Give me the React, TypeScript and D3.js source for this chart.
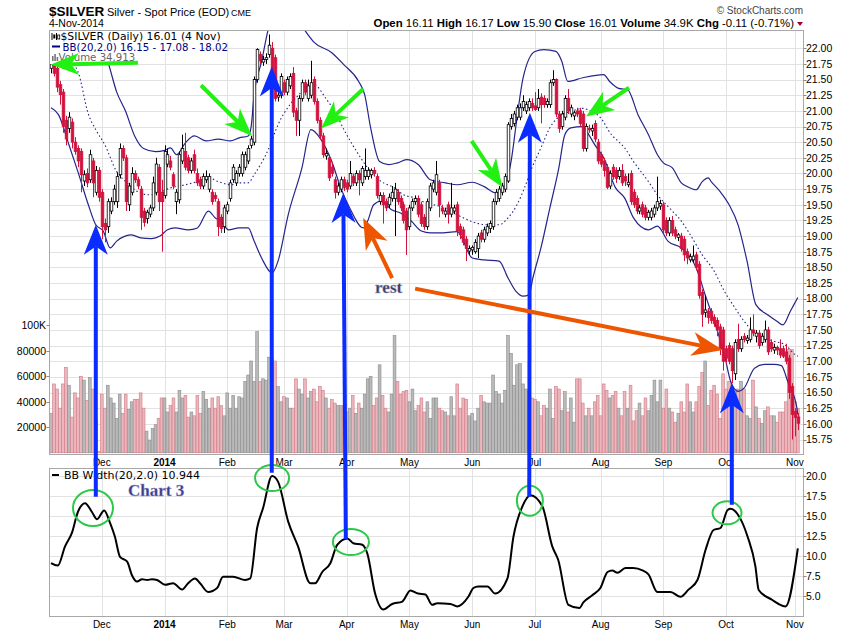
import React from "react";
import * as d3 from "d3";

type Bar = [number, number, number, number, number]; // open, high, low, close, volume (K)

// ---------- daily OHLC + volume (K) ----------
const nov2013: Bar[] = [
  [21.68, 21.82, 21.6, 21.75, 31], [21.75, 21.8, 21.55, 21.6, 54], [21.68, 21.75, 21.3, 21.38, 50],
  [21.42, 21.48, 21.1, 21.26, 35], [21.3, 21.35, 20.65, 20.75, 54], [20.85, 20.92, 20.45, 20.55, 67],
  [20.72, 20.98, 20.65, 20.9, 53], [20.82, 20.88, 20.4, 20.5, 28], [20.5, 20.58, 20.3, 20.35, 47],
  [20.4, 20.45, 20.1, 20.2, 43], [20.35, 20.4, 19.7, 19.98, 60], [19.88, 20.05, 19.8, 19.98, 57],
  [20.0, 20.08, 19.78, 19.85, 41], [19.9, 20.38, 19.85, 20.3, 59], [20.2, 20.25, 19.62, 19.85, 50],
  [19.7, 20.12, 19.65, 20.05, 26], [20.05, 20.1, 19.55, 19.62, 1],
];
const dec2013: Bar[] = [
  [19.7, 19.75, 18.95, 19.15, 46], [19.2, 19.28, 18.9, 19.1, 35], [19.15, 19.6, 19.05, 19.55, 53],
  [19.4, 19.62, 19.35, 19.55, 43], [19.55, 19.82, 19.5, 19.75, 39], [19.55, 20.02, 19.45, 19.95, 27],
  [19.98, 20.48, 19.92, 20.4, 46], [20.4, 20.45, 20.2, 20.25, 31], [20.25, 20.3, 19.4, 19.55, 46],
  [19.5, 19.85, 19.4, 19.8, 34], [19.7, 20.1, 19.65, 20.0, 40], [20.0, 20.05, 19.85, 19.9, 42],
  [19.9, 19.95, 19.75, 19.8, 42], [19.75, 19.8, 19.1, 19.3, 47], [19.4, 19.45, 19.15, 19.22, 35],
  [19.28, 19.42, 19.2, 19.38, 17], [19.35, 19.5, 19.3, 19.45, 10], [19.45, 19.95, 19.4, 19.85, 19],
  [19.7, 20.25, 19.65, 20.15, 22], [20.1, 20.15, 19.4, 19.55, 27], [19.7, 19.9, 18.75, 19.55, 43],
];
const jan2014: Bar[] = [
  [19.65, 20.45, 19.6, 20.35, 43], [20.15, 20.4, 20.1, 20.3, 32], [20.2, 20.28, 20.05, 20.1, 37],
  [19.98, 20.02, 19.75, 19.8, 43], [19.55, 19.75, 19.35, 19.7, 32], [19.58, 20.35, 19.52, 20.3, 49],
  [20.2, 20.62, 20.15, 20.4, 43], [20.35, 20.65, 20.05, 20.1, 45], [20.25, 20.3, 20.0, 20.05, 28],
  [20.05, 20.25, 20.0, 20.2, 32], [20.3, 20.38, 20.0, 20.05, 29], [20.0, 20.08, 19.8, 19.85, 45],
  [19.9, 19.95, 19.75, 19.8, 31], [19.8, 20.0, 19.75, 19.95, 48], [19.9, 20.05, 19.85, 19.95, 42],
  [19.75, 20.0, 19.7, 19.95, 35], [19.7, 19.75, 19.5, 19.55, 43], [19.65, 19.7, 19.55, 19.6, 35],
  [19.55, 19.6, 19.0, 19.15, 44], [19.3, 19.35, 19.05, 19.12, 37], [19.15, 19.5, 19.05, 19.45, 29],
];
const feb2014: Bar[] = [
  [19.4, 19.55, 19.35, 19.5, 47], [19.6, 19.9, 19.55, 19.85, 35], [19.9, 20.15, 19.85, 20.1, 45],
  [19.85, 20.05, 19.8, 20.0, 35], [20.0, 20.15, 19.95, 20.1, 44], [20.0, 20.35, 19.95, 20.3, 43],
  [20.1, 20.35, 20.05, 20.3, 56], [20.2, 20.45, 20.15, 20.4, 61], [20.45, 20.6, 20.4, 20.55, 72],
  [20.5, 21.55, 20.45, 21.5, 56], [21.5, 22.0, 21.45, 21.98, 95], [21.9, 21.95, 21.75, 21.8, 56],
  [21.78, 21.88, 21.72, 21.82, 58], [21.82, 21.92, 21.75, 21.85, 57], [21.9, 22.22, 21.85, 22.05, 75],
  [22.0, 22.1, 21.55, 21.6, 74], [21.85, 21.9, 21.15, 21.2, 72], [21.22, 21.3, 21.15, 21.25, 52],
  [21.25, 21.6, 21.2, 21.55, 40],
];
const mar2014: Bar[] = [
  [21.45, 21.5, 21.25, 21.3, 44], [21.3, 21.55, 21.25, 21.5, 43], [21.4, 21.6, 21.35, 21.55, 35],
  [21.6, 21.7, 20.9, 20.98, 35], [21.0, 21.05, 20.6, 20.85, 58], [20.85, 21.25, 20.6, 21.2, 50],
  [21.2, 21.5, 21.15, 21.45, 46], [21.45, 21.5, 21.25, 21.3, 58], [21.2, 21.5, 21.15, 21.4, 43],
  [21.25, 21.8, 21.2, 21.45, 48], [21.5, 21.55, 21.1, 21.15, 50], [21.15, 21.2, 20.8, 20.85, 40],
  [20.85, 20.9, 20.55, 20.6, 52], [20.6, 20.65, 20.25, 20.3, 49], [20.28, 20.4, 20.22, 20.32, 43],
  [20.25, 20.3, 19.88, 19.93, 35], [20.1, 20.18, 19.95, 20.0, 42], [19.9, 19.95, 19.6, 19.7, 39],
  [19.7, 19.85, 19.65, 19.8, 37], [19.75, 19.95, 19.7, 19.9, 37], [19.9, 19.95, 19.72, 19.78, 37],
];
const apr2014: Bar[] = [
  [19.85, 19.9, 19.7, 19.75, 32], [19.8, 20.2, 19.75, 20.0, 35], [19.95, 20.0, 19.8, 19.85, 45],
  [19.85, 20.05, 19.8, 20.0, 31], [20.0, 20.05, 19.65, 19.9, 39], [19.85, 20.12, 19.8, 20.08, 35],
  [19.95, 20.4, 19.9, 20.05, 46], [19.95, 20.1, 19.9, 20.05, 58], [19.98, 20.08, 19.92, 20.05, 60],
  [20.05, 20.1, 19.95, 20.0, 37], [19.95, 20.0, 19.6, 19.65, 43], [19.55, 19.7, 19.5, 19.65, 69],
  [19.65, 19.7, 19.2, 19.5, 45], [19.55, 19.6, 19.4, 19.45, 35], [19.5, 19.68, 19.45, 19.62, 32],
  [19.6, 19.8, 19.55, 19.7, 46], [19.6, 19.85, 19.0, 19.75, 92], [19.7, 19.75, 19.5, 19.55, 56],
  [19.6, 19.65, 19.4, 19.45, 46], [19.5, 19.55, 19.2, 19.25, 48], [19.4, 19.45, 18.7, 19.1, 49],
];
const may2014: Bar[] = [
  [19.15, 19.5, 19.1, 19.45, 40], [19.45, 19.6, 19.4, 19.55, 50], [19.55, 19.65, 19.5, 19.6, 33],
  [19.6, 19.65, 19.3, 19.35, 37], [19.5, 19.55, 19.15, 19.2, 43], [19.3, 19.35, 19.1, 19.15, 32],
  [19.15, 19.6, 19.1, 19.55, 40], [19.45, 19.85, 19.4, 19.8, 27], [19.75, 19.9, 19.7, 19.85, 43],
  [19.7, 20.2, 19.65, 19.98, 43], [19.85, 19.9, 19.3, 19.5, 35], [19.45, 19.5, 19.35, 19.4, 33],
  [19.35, 19.45, 19.3, 19.4, 32], [19.5, 19.55, 19.2, 19.35, 29], [19.35, 19.85, 19.3, 19.45, 44],
  [19.4, 19.5, 19.35, 19.45, 29], [19.5, 19.55, 19.0, 19.08, 54], [19.15, 19.2, 18.95, 19.02, 35],
  [19.1, 19.15, 18.85, 18.9, 43], [18.95, 19.0, 18.6, 18.8, 42], [18.76, 18.85, 18.7, 18.8, 29],
];
const jun2014: Bar[] = [
  [18.78, 18.85, 18.7, 18.82, 31], [18.75, 18.95, 18.72, 18.9, 25], [18.8, 19.05, 18.65, 19.0, 35],
  [19.05, 19.1, 18.9, 18.95, 45], [18.95, 19.15, 18.9, 19.1, 40], [19.05, 19.2, 19.0, 19.15, 39],
  [19.12, 19.25, 19.05, 19.2, 39], [19.15, 19.6, 19.1, 19.55, 61], [19.55, 19.75, 19.5, 19.7, 48],
  [19.6, 19.8, 19.55, 19.75, 46], [19.7, 19.85, 19.65, 19.8, 39], [19.75, 20.0, 19.7, 19.95, 49],
  [19.88, 20.82, 19.85, 20.78, 92], [20.75, 20.95, 20.7, 20.88, 78], [20.8, 21.0, 20.75, 20.95, 53],
  [20.9, 21.1, 20.85, 21.05, 69], [20.9, 21.12, 20.85, 21.05, 70], [21.05, 21.25, 21.0, 21.15, 54],
  [21.0, 21.15, 20.95, 21.1, 50], [21.05, 21.2, 21.0, 21.15, 48], [21.12, 21.2, 21.0, 21.05, 43],
];
const jul2014: Bar[] = [
  [21.08, 21.3, 21.0, 21.02, 42], [21.05, 21.35, 21.0, 21.2, 40], [21.22, 21.28, 20.8, 21.1, 29],
  [21.2, 21.25, 21.05, 21.1, 37], [21.1, 21.2, 21.05, 21.15, 35], [21.1, 21.5, 21.05, 21.45, 50],
  [21.45, 21.65, 21.4, 21.5, 27], [21.5, 21.52, 20.9, 20.95, 52], [20.95, 21.0, 20.65, 20.72, 50],
  [20.75, 21.0, 20.7, 20.95, 33], [20.9, 21.25, 20.85, 21.2, 48], [21.2, 21.35, 20.95, 21.0, 32],
  [20.95, 21.1, 20.9, 21.05, 43], [20.92, 21.0, 20.85, 20.97, 24], [21.0, 21.05, 20.9, 20.95, 58],
  [21.0, 21.05, 20.75, 20.8, 58], [20.95, 21.0, 20.35, 20.4, 39], [20.4, 20.8, 20.35, 20.75, 29],
  [20.72, 20.78, 20.65, 20.7, 35], [20.68, 20.78, 20.6, 20.72, 29], [20.8, 20.85, 20.5, 20.55, 40],
  [20.5, 20.55, 20.15, 20.2, 45],
];
const aug2014: Bar[] = [
  [20.3, 20.35, 20.1, 20.15, 29], [20.2, 20.25, 19.95, 20.05, 54], [20.1, 20.15, 19.75, 19.78, 49],
  [19.8, 20.05, 19.75, 20.0, 43], [20.1, 20.15, 19.9, 19.95, 45], [20.05, 20.1, 19.85, 19.92, 48],
  [19.95, 20.1, 19.9, 20.05, 35], [20.05, 20.15, 19.8, 19.85, 29], [19.95, 20.0, 19.8, 19.88, 48],
  [19.82, 20.0, 19.78, 19.86, 35], [20.0, 20.05, 19.5, 19.55, 53], [19.7, 19.75, 19.45, 19.5, 25],
  [19.6, 19.65, 19.35, 19.4, 33], [19.4, 19.5, 19.35, 19.45, 39], [19.5, 19.55, 19.3, 19.35, 29],
  [19.45, 19.5, 19.25, 19.3, 43], [19.3, 19.42, 19.25, 19.38, 33], [19.3, 19.45, 19.25, 19.4, 45],
  [19.35, 19.5, 19.3, 19.45, 57], [19.45, 19.95, 19.4, 19.55, 40], [19.48, 19.58, 19.42, 19.52, 57],
];
const sep2014: Bar[] = [
  [19.5, 19.55, 19.05, 19.1, 35], [19.25, 19.3, 19.0, 19.05, 50], [19.05, 19.3, 19.0, 19.25, 35],
  [19.25, 19.32, 19.0, 19.05, 32], [19.1, 19.15, 18.95, 19.0, 24], [18.98, 19.05, 18.92, 19.02, 31],
  [19.0, 19.05, 18.75, 18.8, 40], [18.95, 19.0, 18.6, 18.7, 32], [18.75, 18.8, 18.55, 18.65, 54],
  [18.62, 18.72, 18.58, 18.67, 40], [18.62, 18.85, 18.58, 18.68, 32], [18.7, 18.75, 18.45, 18.5, 40],
  [18.55, 18.6, 18.0, 18.05, 52], [18.1, 18.15, 17.55, 17.75, 63], [17.78, 18.05, 17.7, 17.82, 72],
  [17.8, 17.85, 17.6, 17.7, 37], [17.8, 17.85, 17.6, 17.65, 49], [17.7, 17.75, 17.55, 17.6, 53],
  [17.65, 17.7, 17.4, 17.5, 46], [17.55, 17.6, 17.1, 17.2, 27], [17.5, 17.55, 16.85, 17.0, 62],
];
const oct2014: Bar[] = [
  [17.2, 17.25, 16.95, 17.05, 50], [17.25, 17.3, 16.95, 17.0, 56], [17.2, 17.25, 16.65, 16.85, 49],
  [16.8, 17.35, 16.7, 17.3, 48], [17.35, 17.6, 17.15, 17.2, 50], [17.2, 17.4, 17.15, 17.35, 56],
  [17.4, 17.45, 17.3, 17.35, 50], [17.33, 17.42, 17.28, 17.37, 29], [17.35, 17.7, 17.3, 17.5, 27],
  [17.5, 17.75, 17.4, 17.45, 57], [17.4, 17.5, 17.3, 17.45, 36], [17.45, 17.5, 17.2, 17.25, 27],
  [17.3, 17.45, 17.25, 17.4, 23], [17.35, 17.65, 17.3, 17.5, 33], [17.5, 17.55, 17.1, 17.15, 36],
  [17.3, 17.35, 17.15, 17.2, 29], [17.18, 17.28, 17.12, 17.22, 29], [17.22, 17.25, 17.1, 17.18, 24],
  [17.2, 17.35, 17.05, 17.1, 32], [17.2, 17.25, 17.05, 17.08, 32], [17.15, 17.28, 16.95, 17.0, 40],
  [17.05, 17.1, 16.4, 16.5, 81], [16.6, 16.65, 15.75, 16.15, 81],
];
const nov2014: Bar[] = [
  [16.2, 16.25, 15.8, 16.1, 40], [16.11, 16.17, 15.9, 16.01, 34.913],
];

// ---------- Bollinger Bands (20,2.0): [day index, price] ----------
const bbUpper: [number, number][] = [
  [0, 23.3], [8, 22.8], [15, 22.2], [19, 21.79], [22, 21.3], [25, 20.99], [28, 20.6], [31, 20.4], [35, 20.35],
  [38, 20.37], [40, 20.41], [42, 20.3], [45, 20.49], [48, 20.6], [52, 20.52], [56, 20.55], [60, 20.52], [63, 20.57],
  [66, 20.6], [67, 20.75], [68, 21.26], [70.5, 21.79], [72.8, 22.32], [78, 22.8], [84.5, 22.32], [88, 22.1],
  [94, 21.93], [98, 21.74], [103, 21.47], [105, 21.26], [107, 20.73], [110, 20.19], [113, 20.14], [116, 20.17],
  [119, 20.22], [123, 20.14], [127, 19.9], [132, 19.85], [136, 19.82], [141, 19.86], [145, 19.79], [149, 19.69],
  [152, 19.82], [154, 20.19], [156, 20.89], [158, 21.52], [162, 21.95], [165, 21.98], [169, 21.95], [171, 21.79],
  [173, 21.47], [178, 21.53], [185, 21.58], [187, 21.47], [190, 21.36], [193, 21.34], [196.5, 20.94], [200, 20.62],
  [203, 20.3], [205, 20.17], [208, 20.09], [211, 19.85], [213, 19.79], [216, 19.74], [218, 19.87], [220, 19.93],
  [221, 19.87], [224, 19.71], [227, 19.5], [230, 19.18], [233, 18.6], [236, 17.9], [240, 17.74], [243, 17.64],
  [245, 17.58], [247.5, 17.8], [250, 18.02],
];
const bbMiddle: [number, number][] = [
  [0, 22.0], [5, 21.85], [9, 21.63], [12.5, 20.95], [15, 20.7], [18, 20.46], [22, 20.03], [25, 19.87], [29, 19.71],
  [32.6, 19.66], [36, 19.69], [40, 19.77], [45, 19.82], [49, 19.87], [52.7, 19.93], [56, 19.87], [60.5, 19.82],
  [63, 19.85], [66, 19.85], [68, 19.98], [73, 20.41], [76, 20.78], [80, 21.1], [83, 21.26], [86, 21.42], [88, 21.42],
  [92, 21.2], [95, 20.99], [98.4, 20.67], [103, 20.3], [106, 20.09], [110.6, 19.87], [115, 19.77], [118, 19.66],
  [122, 19.61], [126, 19.52], [128, 19.5], [132, 19.45], [136, 19.34], [141, 19.23], [146, 19.18], [150, 19.18],
  [153, 19.29], [156, 19.5], [158.5, 19.77], [161, 20.09], [164, 20.41], [167, 20.73], [171, 20.94], [174, 20.99],
  [178, 21.04], [181, 20.99], [184, 20.89], [187.6, 20.62], [190, 20.51], [192, 20.41], [195, 20.19], [200, 19.87],
  [203, 19.66], [208, 19.4], [211, 19.24], [214, 19.02], [218, 18.7], [222, 18.44], [225.4, 18.12], [229, 17.85],
  [232, 17.64], [235, 17.48], [239, 17.37], [242, 17.32], [245.5, 17.27], [249, 17.11], [250, 17.08],
];
const bbLower: [number, number][] = [
  [0, 21.05], [2.5, 20.94], [6, 20.46], [9, 20.03], [12.5, 19.5], [15, 19.18], [17.5, 19.08], [19.8, 18.81],
  [22, 18.92], [24.8, 19.0], [27, 19.02], [30, 18.97], [33.7, 18.96], [36.5, 19.0], [39, 19.1], [41.5, 19.13],
  [46, 19.1], [49, 19.13], [52.7, 19.4], [55, 19.29], [57, 19.24], [59.4, 19.1], [63, 19.13], [66, 19.13],
  [68, 18.92], [70.5, 18.65], [74, 18.41], [76, 18.6], [79.4, 19.34], [84, 20.09], [87, 20.7], [90, 20.57],
  [94, 20.19], [97, 19.77], [100, 19.45], [104.5, 19.13], [106, 19.24], [108, 19.5], [110.6, 19.56], [114, 19.42],
  [117, 19.37], [120.6, 19.24], [124, 19.08], [127, 19.05], [130, 19.05], [136, 19.07], [141, 18.65], [145, 18.62],
  [150, 18.6], [153, 18.33], [155.6, 18.12], [158, 18.04], [160, 18.06], [161.3, 18.33], [164, 18.81],
  [167, 19.45], [170, 20.09], [172, 20.62], [174, 20.73], [178, 20.75], [180, 20.62], [182, 20.46], [185, 20.25],
  [189, 19.77], [192, 19.61], [195, 19.29], [200, 19.1], [203, 19.16], [206.5, 18.92], [211, 18.81], [216, 18.49],
  [219, 18.06], [222, 17.64], [225.4, 17.11], [227.5, 16.68], [230, 16.52], [232, 16.57], [235.5, 16.89],
  [239, 16.95], [242, 16.95], [244.5, 16.93], [246.6, 16.68], [249.7, 16.25], [250, 16.15],
];

// ---------- BB Width(20,2.0): [day index, width] ----------
const bbWidth: [number, number][] = [
  [0, 9.1], [2.3, 8.8], [4.7, 11.2], [7, 12.9], [9, 15.5], [11.4, 16.6], [13.7, 15.5], [15.4, 14.6], [17.8, 15.7],
  [19.8, 14.1], [21.4, 12.4], [23.1, 9.9], [25.5, 9.3], [27.1, 7.6], [28.8, 6.8], [30.5, 7.1], [32.2, 7.0],
  [33.8, 7.1], [35.5, 7.0], [38.2, 6.4], [40.9, 6.6], [43.9, 5.8], [45.9, 6.6], [48.2, 7.2], [49.9, 6.6],
  [52.6, 5.5], [55.6, 6.0], [57.6, 7.4], [61, 7.4], [65, 7.0], [66.7, 7.2], [69, 13.5], [71, 16.0], [74, 20.0],
  [76, 19.3], [79.4, 14.3], [82.7, 11.2], [86.8, 6.6], [88.4, 6.6], [90.8, 8.0], [93.5, 9.1], [95.8, 11.4],
  [99.2, 12.2], [101.2, 11.6], [104.2, 11.4], [105.9, 10.3], [108.5, 5.3], [111.2, 3.3], [114.2, 4.0],
  [117.6, 4.3], [120.3, 5.7], [122.9, 5.3], [125.3, 5.2], [127.6, 3.9], [129.3, 4.1], [133.7, 4.0], [136, 3.7],
  [139.7, 4.9], [141.4, 6.0], [143, 6.2], [146.1, 6.2], [148.7, 5.3], [152.8, 7.2], [154.8, 12.4], [157.8, 16.2],
  [160.5, 17.6], [164.5, 16.2], [167.8, 11.2], [169.8, 9.5], [173.2, 3.9], [176.9, 3.5], [178.2, 4.2],
  [181.2, 5.1], [183.9, 6.0], [186.3, 8.0], [187.9, 8.2], [189.6, 7.9], [192.3, 8.5], [194.9, 8.5], [198, 8.2],
  [200, 7.7], [203, 5.5], [207.4, 5.5], [210.7, 4.9], [213.4, 5.8], [216.4, 7.0], [219.1, 10.75], [221.8, 13.25],
  [224.1, 13.5], [226.5, 15.75], [227.5, 15.9], [229.8, 15.25], [233.2, 12.4], [235.8, 8.7], [236.9, 5.75],
  [241.5, 4.5], [243.6, 4.0], [245.9, 3.7], [250, 10.944],
];

// ---------- axis ticks ----------
const monthLabels = ["Dec", "2014", "Feb", "Mar", "Apr", "May", "Jun", "Jul", "Aug", "Sep", "Oct", "Nov"];
const monthSeries = [dec2013, jan2014, feb2014, mar2014, apr2014, may2014, jun2014, jul2014, aug2014, sep2014, oct2014, nov2014];
const priceTicks = d3.range(15.75, 22.001, 0.25);
const volumeTicks = [20, 40, 60, 80, 100];
const volumeTickLabels = ["20000", "40000", "60000", "80000", "100K"];
const widthTicks = [5, 7.5, 10, 12.5, 15, 17.5, 20];

// ---------- hand-drawn annotations (in data units) ----------
const blueArrows = [
  { day: 15.0, dayBottom: 15.0, price: 19.18, width: 17.4 },
  { day: 73.9, dayBottom: 73.9, price: 21.71, width: 20.4 },
  { day: 97.85, dayBottom: 98.7, price: 19.69, width: 12.1 },
  { day: 160.3, dayBottom: 160.1, price: 20.97, width: 17.4 },
  { day: 227.9, dayBottom: 227.9, price: 16.65, width: 16.4 },
];
const greenArrows = [
  { d1: 29.1, p1: 21.77, d2: 0.0, p2: 21.74 },
  { d1: 50.2, p1: 21.41, d2: 67.3, p2: 20.6 },
  { d1: 104.5, p1: 21.35, d2: 90.4, p2: 20.72 },
  { d1: 140.8, p1: 20.52, d2: 151.1, p2: 19.78 },
  { d1: 193.5, p1: 21.37, d2: 179.1, p2: 20.91 },
];
const orangeArrows = [
  { d1: 114.2, p1: 18.33, d2: 104.5, p2: 19.29 },
  { d1: 121.9, p1: 18.16, d2: 224.9, p2: 17.18 },
];
const greenRings = [
  { day: 14.06, width: 16.0, rx: 20, ry: 18 },
  { day: 74.0, width: 19.75, rx: 17, ry: 13 },
  { day: 100.4, width: 11.75, rx: 18, ry: 13 },
  { day: 160.3, width: 16.9, rx: 13, ry: 15 },
  { day: 226.3, width: 15.4, rx: 14.5, ry: 11.5 },
];

const SANS = "'Liberation Sans', Arial, Helvetica, sans-serif";
const VERD = "'DejaVu Sans', Verdana, sans-serif";
const SERIF = "'Liberation Serif', 'Times New Roman', serif";

function Arrow({ x1, y1, x2, y2, color, w, headLen, headW }: any) {
  const dx = x2 - x1, dy = y2 - y1;
  const L = Math.hypot(dx, dy);
  const ux = dx / L, uy = dy / L;
  const px = -uy, py = ux;
  const bx = x2 - ux * headLen, by = y2 - uy * headLen;
  const nx = x2 - ux * headLen * 0.72, ny = y2 - uy * headLen * 0.72;
  const pts = [
    [x2, y2],
    [bx + (px * headW) / 2, by + (py * headW) / 2],
    [nx, ny],
    [bx - (px * headW) / 2, by - (py * headW) / 2],
  ];
  return (
    <g>
      <line x1={x1} y1={y1} x2={nx} y2={ny} stroke={color} strokeWidth={w} />
      <polygon points={pts.map((p) => p.join(",")).join(" ")} fill={color} />
    </g>
  );
}

export default function App() {
  const bars: Bar[] = [nov2013, ...monthSeries].flat() as Bar[];
  const monthStarts: number[] = [];
  let acc = nov2013.length;
  monthSeries.forEach((m) => {
    monthStarts.push(acc);
    acc += m.length;
  });

  const L = 49.5, R = 803.5, T = 30.5, B = 454.5, T2 = 468.5, B2 = 616.5;
  const x = d3.scaleLinear().domain([-0.5, 251.9]).range([L, R]);
  const yP = d3.scaleLinear().domain([15.75, 22]).range([439.5, 48.3]);
  const yV = d3.scaleLinear().domain([0, 100]).range([452.8, 325.3]);
  const yW = d3.scaleLinear().domain([5, 20]).range([596, 476]);

  const bandLine = d3.line<[number, number]>().x((d) => x(d[0])).y((d) => yP(d[1])).curve(d3.curveMonotoneX);
  const widthLine = d3.line<[number, number]>().x((d) => x(d[0])).y((d) => yW(d[1])).curve(d3.curveMonotoneX);

  const red = "#d2123c";
  const navy = "#25258c";
  const grid = "#e2e2e2";
  const frame = "#a8a8a8";
  const blue = "#0b2cff";
  const lime = "#22f012";
  const ring = "#2cc84a";
  const orange = "#ee5500";

  return (
    <svg width={850} height={633} style={{ position: "absolute", left: 0, top: 0, background: "#fff" }}>
      <defs>
        <clipPath id="topclip"><rect x={L} y={T} width={R - L} height={B - T} /></clipPath>
        <clipPath id="botclip"><rect x={L} y={T2} width={R - L} height={B2 - T2} /></clipPath>
      </defs>
      <rect x={0} y={0} width={850} height={633} fill="#fff" />

      {/* header */}
      <text x={49} y={15.5} fontFamily={SANS} fontWeight="bold" fontSize={13.5} fill="#000">$SILVER</text>
      <text x={107} y={15.5} fontFamily={SANS} fontSize={11} fill="#000">Silver - Spot Price (EOD)</text>
      <text x={231} y={15.5} fontFamily={SANS} fontSize={9} fill="#000">CME</text>
      <text x={49} y={27} fontFamily={SANS} fontSize={10.5} fill="#000">4-Nov-2014</text>
      <text x={803} y={14} textAnchor="end" fontFamily={SANS} fontSize={10} fill="#444">© StockCharts.com</text>
      <text x={794} y={27} textAnchor="end" fontFamily={SANS} fontSize={11.4} fill="#000">
        <tspan fontWeight="bold">Open</tspan> 16.11 <tspan fontWeight="bold">High</tspan> 16.17{" "}
        <tspan fontWeight="bold">Low</tspan> 15.90 <tspan fontWeight="bold">Close</tspan> 16.01{" "}
        <tspan fontWeight="bold">Volume</tspan> 34.9K <tspan fontWeight="bold">Chg</tspan> -0.11 (-0.71%)
      </text>
      <polygon points="797,22 803,22 800,26" fill="#a0002a" />

      {/* grids */}
      {priceTicks.map((p) => (
        <line key={"pg" + p} x1={L} x2={R} y1={Math.round(yP(p)) + 0.5} y2={Math.round(yP(p)) + 0.5} stroke={grid} />
      ))}
      {monthStarts.map((i, k) => (
        <g key={"mg" + k}>
          <line x1={Math.round(x(i)) + 0.5} x2={Math.round(x(i)) + 0.5} y1={T} y2={B} stroke={grid} />
          <line x1={Math.round(x(i)) + 0.5} x2={Math.round(x(i)) + 0.5} y1={T2} y2={B2} stroke={grid} />
        </g>
      ))}
      {widthTicks.map((w) => (
        <line key={"wg" + w} x1={L} x2={R} y1={Math.round(yW(w)) + 0.5} y2={Math.round(yW(w)) + 0.5} stroke={grid} />
      ))}

      {/* volume */}
      <g clipPath="url(#topclip)">
        {bars.map((b, i) => {
          const up = b[3] >= b[0];
          const y0 = yV(b[4]);
          return (
            <rect key={"v" + i} x={x(i) - 1.4} y={y0} width={2.8} height={Math.max(0.5, yV(0) - y0)}
              fill={up ? "#bababa" : "#ecb7bc"} stroke={up ? "#8c8c8c" : "#d07a86"} strokeWidth={0.6} />
          );
        })}
      </g>

      {/* bollinger bands */}
      <g clipPath="url(#topclip)" fill="none">
        <path d={bandLine(bbUpper) || ""} stroke={navy} strokeWidth={1.2} />
        <path d={bandLine(bbLower) || ""} stroke={navy} strokeWidth={1.2} />
        <path d={bandLine(bbMiddle) || ""} stroke={navy} strokeWidth={1.1} strokeDasharray="1.5,2.5" />
      </g>

      {/* candles */}
      <g clipPath="url(#topclip)">
        {bars.map((b, i) => {
          const [o, h, l, c] = b;
          const up = c >= o;
          const col = up ? "#000" : red;
          const cx = Math.round(x(i)) + 0.5;
          const yt = yP(Math.max(o, c));
          const hgt = Math.max(1, Math.abs(yP(o) - yP(c)));
          return (
            <g key={"c" + i}>
              <line x1={cx} x2={cx} y1={yP(h)} y2={yP(l)} stroke={col} strokeWidth={1} />
              <rect x={cx - 1.3} y={yt} width={2.6} height={hgt} fill={up ? "#fff" : red} stroke={col} strokeWidth={0.8} />
            </g>
          );
        })}
      </g>

      {/* top legend */}
      <rect x={50} y={31} width={184} height={11} fill="#fff" />
      <rect x={50} y={42} width={152} height={11} fill="#fff" />
      <rect x={50} y={53} width={78} height={11} fill="#fff" />
      <g>
        <line x1={52} x2={52} y1={33} y2={40} stroke="#000" />
        <rect x={53.3} y={34.5} width={2} height={4} fill="#000" />
        <line x1={56.5} x2={56.5} y1={33} y2={40} stroke="#000" />
        <rect x={57.7} y={35} width={2} height={4} fill="#fff" stroke="#000" strokeWidth={0.8} />
        <text x={60.5} y={40} fontFamily={VERD} fontSize={10.8} fill="#000">$SILVER (Daily) 16.01 (4 Nov)</text>
        <line x1={52} x2={60} y1={46.5} y2={46.5} stroke="#000080" strokeWidth={2} />
        <text x={62.5} y={50.5} fontFamily={VERD} fontSize={10.2} fill="#000080">BB(20,2.0) 16.15 - 17.08 - 18.02</text>
        <rect x={52} y={56} width={1.6} height={5} fill="#777" />
        <rect x={54.3} y={54} width={1.6} height={7} fill="#777" />
        <rect x={56.6} y={57} width={1.6} height={4} fill="#777" />
        <text x={58.5} y={60.8} fontFamily={VERD} fontSize={10.2} fill="#666">Volume 34,913</text>
      </g>

      {/* bottom panel BB width */}
      <g clipPath="url(#botclip)">
        <path d={widthLine(bbWidth) || ""} fill="none" stroke="#000" strokeWidth={2} strokeLinejoin="round" />
      </g>
      <line x1={52} x2={59} y1={475} y2={475} stroke="#000" strokeWidth={2} />
      <text x={64} y={478.5} fontFamily={VERD} fontSize={11} fill="#000">BB Width(20,2.0) 10.944</text>

      {/* frames */}
      <rect x={L} y={T} width={R - L} height={B - T} fill="none" stroke={frame} />
      <rect x={L} y={T2} width={R - L} height={B2 - T2} fill="none" stroke={frame} />

      {/* right price axis */}
      {priceTicks.map((p) => (
        <g key={"pt" + p}>
          <line x1={R} x2={R + 3} y1={Math.round(yP(p)) + 0.5} y2={Math.round(yP(p)) + 0.5} stroke="#888" />
          <text x={806} y={yP(p) + 3.8} fontFamily={SANS} fontSize={10.5} fill="#000">{p.toFixed(2)}</text>
        </g>
      ))}
      {/* left volume axis */}
      {volumeTicks.map((v, k) => (
        <g key={"vt" + v}>
          <line x1={L - 3} x2={L} y1={Math.round(yV(v)) + 0.5} y2={Math.round(yV(v)) + 0.5} stroke="#888" />
          <text x={46} y={yV(v) + 3.8} textAnchor="end" fontFamily={SANS} fontSize={10.5} fill="#000">{volumeTickLabels[k]}</text>
        </g>
      ))}
      {/* right width axis */}
      {widthTicks.map((w) => (
        <g key={"wt" + w}>
          <line x1={R} x2={R + 3} y1={Math.round(yW(w)) + 0.5} y2={Math.round(yW(w)) + 0.5} stroke="#888" />
          <text x={806} y={yW(w) + 3.8} fontFamily={SANS} fontSize={10.5} fill="#000">{w.toFixed(1)}</text>
        </g>
      ))}
      {/* month labels */}
      {monthStarts.map((i, k) => (
        <g key={"ml" + k}>
          <text x={x(i)} y={465.5} textAnchor="middle" fontFamily={SANS} fontSize={10} fontWeight={monthLabels[k] === "2014" ? "bold" : "normal"} fill="#000">{monthLabels[k]}</text>
          <text x={x(i)} y={628} textAnchor="middle" fontFamily={SANS} fontSize={10} fontWeight={monthLabels[k] === "2014" ? "bold" : "normal"} fill="#000">{monthLabels[k]}</text>
        </g>
      ))}

      {/* annotations */}
      {greenRings.map((r, k) => (
        <ellipse key={"gr" + k} cx={x(r.day)} cy={yW(r.width)} rx={r.rx} ry={r.ry} fill="none" stroke={ring} strokeWidth={2} />
      ))}
      {blueArrows.map((a, k) => (
        <Arrow key={"ba" + k} x1={x(a.dayBottom)} y1={yW(a.width)} x2={x(a.day)} y2={yP(a.price)} color={blue} w={4} headLen={30} headW={24} />
      ))}
      {greenArrows.map((a, k) => (
        <Arrow key={"ga" + k} x1={x(a.d1)} y1={yP(a.p1)} x2={x(a.d2)} y2={yP(a.p2)} color={lime} w={4} headLen={28} headW={22} />
      ))}
      {orangeArrows.map((a, k) => (
        <Arrow key={"oa" + k} x1={x(a.d1)} y1={yP(a.p1)} x2={x(a.d2)} y2={yP(a.p2)} color={orange} w={4} headLen={31} headW={24} />
      ))}
      <text x={x(108.5)} y={yP(18.09)} fontFamily={SERIF} fontWeight="bold" fontSize={17} fill="#3a3a66" stroke="#9a9ab8" strokeWidth={0.4}>rest</text>
      <text x={x(25.8)} y={yW(17.5)} fontFamily={SERIF} fontWeight="bold" fontSize={17} fill="#3a3a8c" stroke="#9a9ad0" strokeWidth={0.4}>Chart 3</text>
    </svg>
  );
}
